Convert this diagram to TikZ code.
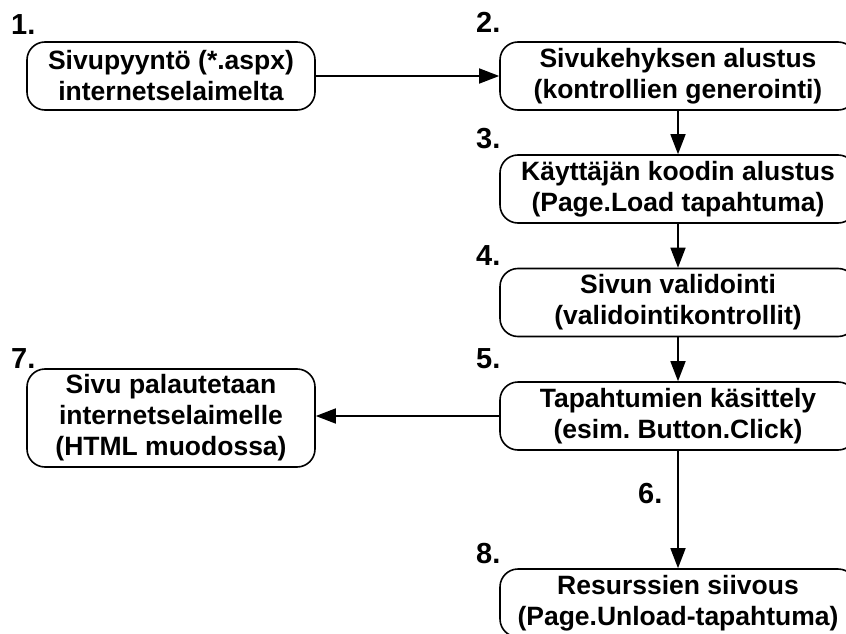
\documentclass[tikz,border=0pt]{standalone}
\usepackage{fontspec}
\setmainfont{Liberation Sans}
\usetikzlibrary{arrows.meta}
\frenchspacing
\begin{document}
\begin{tikzpicture}[x=1pt,y=-1pt,
 box/.style={draw, line width=1.6pt, rounded corners=18pt, align=center, font=\bfseries\fontsize{26.5}{31}\selectfont, inner sep=0pt},
 lbox/.style={box, minimum width=288pt},
 rbox/.style={box, minimum width=356pt},
 two/.style={minimum height=68pt},
 three/.style={minimum height=98pt},
 num/.style={font=\bfseries\fontsize{29}{30}\selectfont, anchor=base west, inner sep=0pt},
 arr/.style={line width=1.6pt, -{Triangle[length=20pt,width=15pt]}}]
\useasboundingbox (0,0) rectangle (846,634);
\clip (0,0) rectangle (846,634);
\node[lbox,two] (b1) at (171,76) {Sivupyyntö (*.aspx)\\internetselaimelta};
\node[rbox,two] (b2) at (678,76) {Sivukehyksen alustus\\(kontrollien generointi)};
\node[rbox,two] (b3) at (678,189) {Käyttäjän koodin alustus\\(Page.Load tapahtuma)};
\node[rbox,two] (b4) at (678,302.5) {Sivun validointi\\(validointikontrollit)};
\node[rbox,two] (b5) at (678,416) {Tapahtumien käsittely\\(esim.\ Button.Click)};
\node[lbox,three] (b7) at (171,418) {Sivu palautetaan\\internetselaimelle\\(HTML muodossa)};
\node[rbox,two] (b8) at (678,603) {Resurssien siivous\\(Page.Unload-tapahtuma)};
\node[num] (n1) at (11,35) {1.};
\node[num] (n2) at (476,33) {2.};
\node[num] (n3) at (476,148) {3.};
\node[num] (n4) at (476,265) {4.};
\node[num] (n5) at (476,368) {5.};
\node[num] (n7) at (11,368) {7.};
\node[num] (n6) at (638,503) {6.};
\node[num] (n8) at (476,563) {8.};
\draw[arr] (b1.east) -- (b2.west);
\draw[arr] (b2) -- (b3);
\draw[arr] (b3) -- (b4);
\draw[arr] (b4) -- (b5);
\draw[arr] (b5.west) -- (b5.west -| b7.east);
\draw[arr] (b5) -- (b8);
\end{tikzpicture}
\end{document}
